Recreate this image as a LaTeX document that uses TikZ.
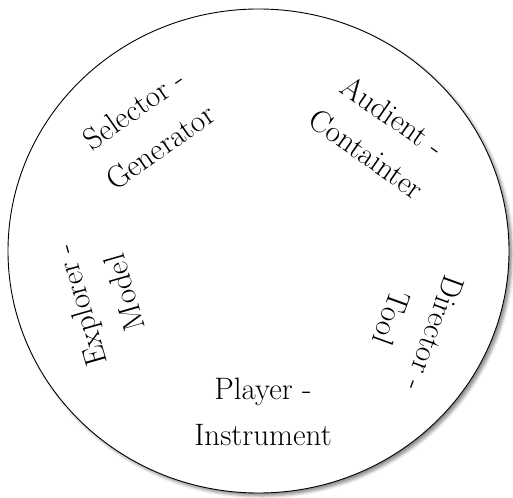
\documentclass[tikz,border=0pt]{standalone}
\usetikzlibrary{shapes.geometric,shadows.blur}
\begin{document}
\begin{tikzpicture}[x=1pt,y=-1pt,
  lbl/.style={font=\fontsize{31}{46}\selectfont, align=center, inner sep=0pt},
  disc/.style={ellipse, draw=black, line width=0.9pt, fill=white, inner sep=0pt,
    blur shadow={shadow xshift=3pt, shadow yshift=-3pt, shadow blur radius=3pt, shadow opacity=45}}]
\useasboundingbox (0,0) rectangle (513,497);
\node[disc, minimum width=501pt, minimum height=484pt] (rim) at (258.5,251) {};
\node[lbl, rotate=35] (sel) at (147,128) {Selector -\\Generator};
\node[lbl, rotate=-35] (aud) at (380,135) {Audient -\\Containter};
\node[lbl, rotate=106] (exp) at (102,299) {Explorer -\\Model};
\node[lbl, rotate=-110] (dir) at (413,326) {Director -\\Tool};
\node[lbl] (pla) at (263,412) {Player -\\Instrument};
\end{tikzpicture}
\end{document}
